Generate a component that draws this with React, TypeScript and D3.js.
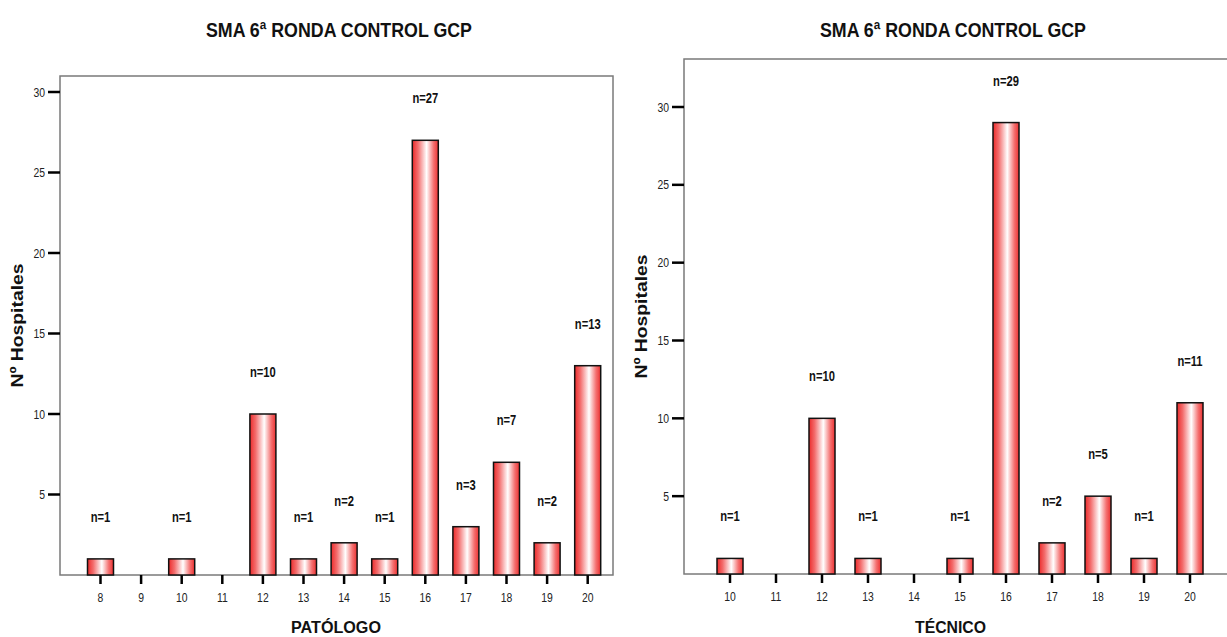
import React from 'react'
import { scaleLinear } from 'd3'

const chartTitle = 'SMA 6ª RONDA CONTROL GCP'
const yAxisTitle = 'Nº Hospitales'

const patologoScores = [8, 9, 10, 11, 12, 13, 14, 15, 16, 17, 18, 19, 20]
const patologoCounts = [1, 0, 1, 0, 10, 1, 2, 1, 27, 3, 7, 2, 13]

const tecnicoScores = [10, 11, 12, 13, 14, 15, 16, 17, 18, 19, 20]
const tecnicoCounts = [1, 0, 10, 1, 0, 1, 29, 2, 5, 1, 11]

const yTicks = [5, 10, 15, 20, 25, 30]

const sans = '"Liberation Sans", Arial, sans-serif'

// arial narrow is not installed, so squeeze Liberation Sans horizontally
function Narrow({ x, y, anchor = 'middle', size, bold = false, fill = '#111', children }: any) {
  return (
    <text
      transform={`translate(${x}, ${y}) scale(0.8, 1)`}
      textAnchor={anchor}
      fontFamily={sans}
      fontWeight={bold ? 'bold' : 'normal'}
      fontSize={size}
      fill={fill}
    >
      {children}
    </text>
  )
}

type PanelProps = {
  id: string
  scores: number[]
  counts: number[]
  xTitle: string
  xTitleLen: number
  frame: { left: number; top: number; right: number; bottom: number }
  x0: number // pixel of first score
  step: number
  yTop: number // pixel of y=30
  titleX: number
}

function Panel({ id, scores, counts, xTitle, xTitleLen, frame, x0, step, yTop, titleX }: PanelProps) {
  const xScale = scaleLinear()
    .domain([scores[0], scores[scores.length - 1]])
    .range([x0, x0 + step * (scores.length - 1)])
  const yScale = scaleLinear().domain([0, 30]).range([frame.bottom, yTop])
  const barW = 26
  const plotMidY = (frame.top + frame.bottom) / 2

  return (
    <g>
      <defs>
        <linearGradient id={`grad-${id}`} x1="0" x2="1" y1="0" y2="0">
          <stop offset="0%" stopColor="#ec2b2b" />
          <stop offset="22%" stopColor="#f36d6d" />
          <stop offset="55%" stopColor="#ffffff" />
          <stop offset="82%" stopColor="#f47070" />
          <stop offset="100%" stopColor="#ec3030" />
        </linearGradient>
      </defs>

      <text
        x={titleX}
        y={37}
        textAnchor="middle"
        fontFamily={sans}
        fontWeight="bold"
        fontSize={20}
        textLength={266}
        lengthAdjust="spacingAndGlyphs"
        fill="#111"
      >
        {chartTitle}
      </text>

      <rect
        x={frame.left}
        y={frame.top}
        width={frame.right - frame.left}
        height={frame.bottom - frame.top}
        fill="none"
        stroke="#7a7a7a"
        strokeWidth={1.5}
      />

      {yTicks.map((t) => (
        <g key={t}>
          <line
            x1={frame.left - 12}
            x2={frame.left}
            y1={yScale(t)}
            y2={yScale(t)}
            stroke="#000"
            strokeWidth={2.5}
          />
          <Narrow x={frame.left - 15} y={yScale(t) + 4.5} anchor="end" size={13} fill="#222">
            {t}
          </Narrow>
        </g>
      ))}

      {scores.map((s, i) => (
        <g key={s}>
          <line
            x1={xScale(s)}
            x2={xScale(s)}
            y1={frame.bottom}
            y2={frame.bottom + 9}
            stroke="#000"
            strokeWidth={2.5}
          />
          <Narrow x={xScale(s)} y={frame.bottom + 27} size={13} fill="#222">
            {s}
          </Narrow>
          {counts[i] > 0 && (
            <>
              <rect
                x={xScale(s) - barW / 2}
                y={yScale(counts[i])}
                width={barW}
                height={frame.bottom - yScale(counts[i])}
                fill={`url(#grad-${id})`}
                stroke="#111"
                strokeWidth={1.5}
              />
              <Narrow x={xScale(s)} y={yScale(counts[i]) - 37} size={14} bold>
                {`n=${counts[i]}`}
              </Narrow>
            </>
          )}
        </g>
      ))}

      <text
        x={frame.left + (xScale(scores[scores.length - 1]) + step / 2 - frame.left) / 2 + 2}
        y={633}
        textAnchor="middle"
        fontFamily={sans}
        fontWeight="bold"
        fontSize={16}
        textLength={xTitleLen}
        lengthAdjust="spacingAndGlyphs"
        fill="#111"
      >
        {xTitle}
      </text>

      <text
        transform={`translate(${frame.left - 37}, ${plotMidY}) rotate(-90)`}
        textAnchor="middle"
        fontFamily={sans}
        fontWeight="bold"
        fontSize={17}
        textLength={124}
        lengthAdjust="spacingAndGlyphs"
        fill="#111"
      >
        {yAxisTitle}
      </text>
    </g>
  )
}

export default function App() {
  return (
    <svg
      width={1227}
      height={637}
      style={{ position: 'absolute', left: 0, top: 0, background: '#fff' }}
    >
      <rect width={1227} height={637} fill="#fff" />
      <Panel
        id="pat"
        scores={patologoScores}
        counts={patologoCounts}
        xTitle="PATÓLOGO"
        xTitleLen={90}
        frame={{ left: 60, top: 76, right: 613, bottom: 575 }}
        x0={100.5}
        step={40.6}
        yTop={92}
        titleX={339}
      />
      <Panel
        id="tec"
        scores={tecnicoScores}
        counts={tecnicoCounts}
        xTitle="TÉCNICO"
        xTitleLen={71}
        frame={{ left: 684, top: 59, right: 1245, bottom: 574 }}
        x0={730}
        step={46}
        yTop={107}
        titleX={953}
      />
    </svg>
  )
}
